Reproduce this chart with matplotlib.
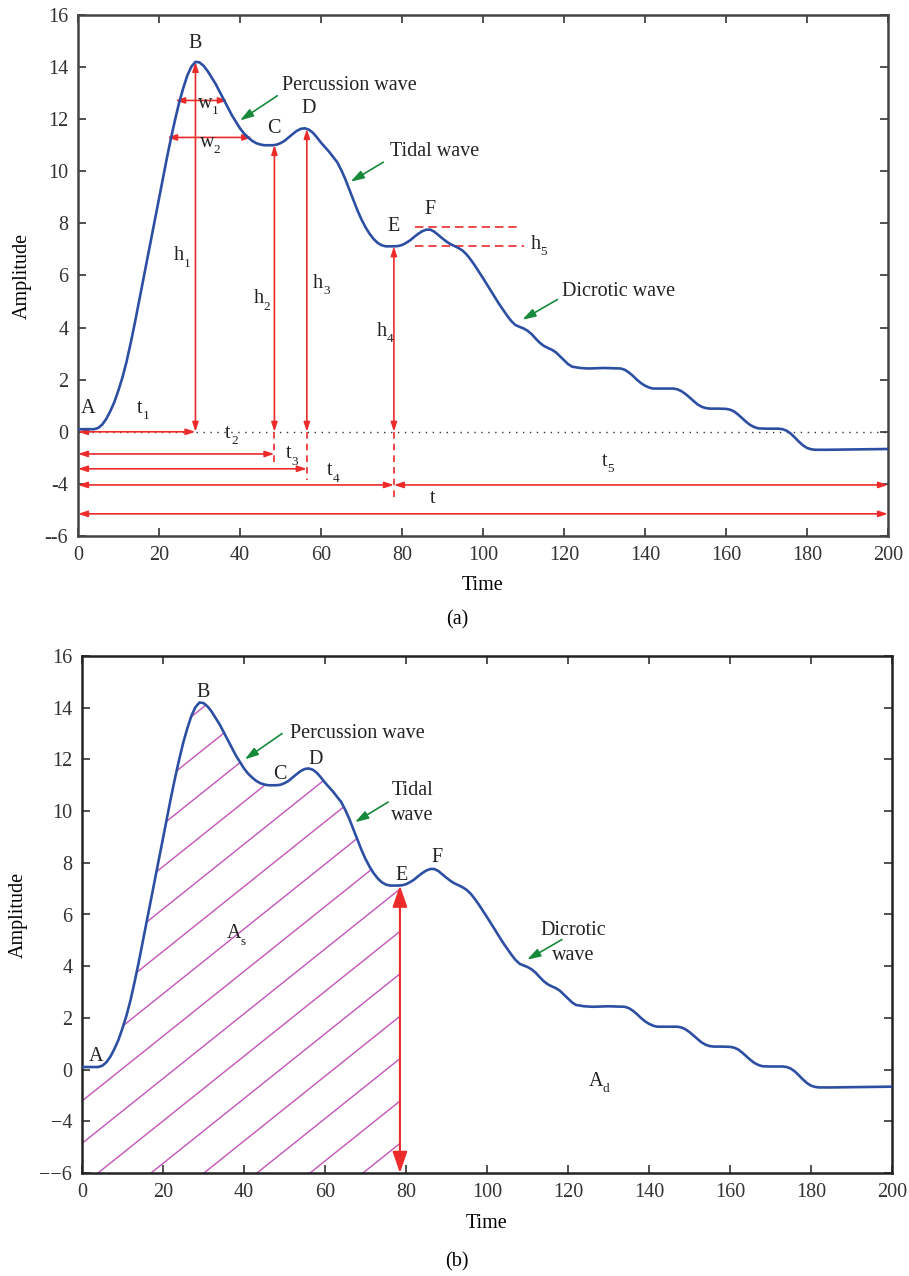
import numpy as np
import matplotlib
matplotlib.use("Agg")
import matplotlib.pyplot as plt
from matplotlib.path import Path

plt.rcParams['font.family'] = ['Liberation Serif', 'DejaVu Serif']

# ---------------- data ----------------
time = [0, 2, 4, 5, 6, 7, 8, 9, 10, 11, 12, 13, 14, 15, 16, 17, 18, 19, 20, 21, 22,
        23, 24, 25, 26, 27, 28, 29, 30, 31, 32, 33, 34, 35, 36, 37, 38, 39, 40, 41,
        42, 43, 44, 45, 46, 48, 49, 50, 51, 52, 53, 54, 55, 56, 57, 58, 59, 60, 62,
        64, 65, 66, 67, 68, 69, 70, 71, 72, 73, 74, 75, 76, 78, 79, 80, 81, 82, 83,
        84, 85, 86, 87, 88, 89, 90, 91, 92, 93, 94, 95, 96, 97, 98, 100, 102, 104,
        106, 107, 108, 109, 110, 111, 112, 113, 114, 115, 116, 117, 118, 119, 120,
        121, 122, 124, 126, 130, 134, 135, 136, 137, 138, 139, 140, 141, 142, 145,
        147, 148, 149, 150, 151, 152, 153, 154, 155, 156, 158, 160, 161, 162, 163,
        164, 165, 166, 167, 168, 170, 173, 174, 175, 176, 177, 178, 179, 180, 181,
        182, 185, 190, 200]
amplitude = [0.1, 0.1, 0.1, 0.15, 0.28, 0.5, 0.8, 1.15, 1.6, 2.1, 2.7, 3.4, 4.15,
             4.95, 5.75, 6.55, 7.35, 8.15, 8.95, 9.75, 10.55, 11.3, 12.0, 12.65,
             13.2, 13.68, 14.02, 14.2, 14.18, 14.05, 13.85, 13.6, 13.35, 13.05,
             12.75, 12.45, 12.15, 11.9, 11.65, 11.45, 11.3, 11.17, 11.08, 11.03,
             11.0, 11.0, 11.02, 11.08, 11.17, 11.3, 11.43, 11.55, 11.63, 11.65,
             11.6, 11.48, 11.3, 11.1, 10.75, 10.35, 10.05, 9.7, 9.3, 8.9, 8.5,
             8.15, 7.85, 7.6, 7.4, 7.25, 7.16, 7.12, 7.12, 7.13, 7.17, 7.25, 7.35,
             7.48, 7.6, 7.7, 7.76, 7.76, 7.68, 7.55, 7.42, 7.3, 7.2, 7.13, 7.05,
             6.95, 6.8, 6.6, 6.38, 5.9, 5.4, 4.9, 4.45, 4.25, 4.1, 4.03, 3.97, 3.88,
             3.75, 3.58, 3.42, 3.3, 3.22, 3.15, 3.05, 2.9, 2.75, 2.6, 2.5, 2.45,
             2.43, 2.45, 2.43, 2.38, 2.28, 2.15, 2.0, 1.87, 1.77, 1.7, 1.66, 1.66,
             1.66, 1.63, 1.56, 1.45, 1.32, 1.18, 1.05, 0.96, 0.91, 0.89, 0.89, 0.88,
             0.85, 0.78, 0.66, 0.52, 0.38, 0.26, 0.18, 0.13, 0.12, 0.12, 0.1, 0.04,
             -0.07, -0.22, -0.38, -0.52, -0.62, -0.67, -0.69, -0.69, -0.68, -0.66]

feature_labels = ['A', 'B', 'C', 'D', 'E', 'F']
feature_times = [0, 29, 48.5, 56.5, 78, 87]

xticks = [0, 20, 40, 60, 80, 100, 120, 140, 160, 180, 200]
yticks = [-4, -2, 0, 2, 4, 6, 8, 10, 12, 14, 16]
ytick_labels_a = ['--6', '-4', '0', '2', '4', '6', '8', '10', '12', '14', '16']
ytick_labels_b = ['\u2212\u22126', '\u22124', '0', '2', '4', '6', '8', '10', '12', '14', '16']

t = np.array(time, dtype=float)
a = np.array(amplitude, dtype=float)
amp_at = dict(zip(feature_labels, np.interp(feature_times, t, a)))
time_at = dict(zip(feature_labels, feature_times))

# ---------------- style ----------------
BLUE = '#2d4fa3'
RED = '#ee2b2b'
GREEN = '#17893b'
MAGENTA = '#c454b8'
TXT = '#222222'
FS = 14.5
SUBFS = 9.5

fig = plt.figure(figsize=(9.09, 12.76), dpi=100)
ax1 = fig.add_axes([78/909, 1 - 536/1276, 810/909, 521/1276])
ax2 = fig.add_axes([82/909, 1 - 1173/1276, 810/909, 517/1276])


def style_axes(ax, labels, spine_color, xpad, ypad):
    ax.set_xlim(0, 200)
    ax.set_ylim(-4, 16)
    ax.set_xticks(xticks)
    ax.set_yticks(yticks)
    ax.set_yticklabels(labels)
    ax.tick_params(direction='in', top=True, right=True, length=6, width=1.2,
                   labelsize=FS, colors='#333333', pad=7)
    for s in ax.spines.values():
        s.set_linewidth(1.8)
        s.set_color(spine_color)
    ax.set_xlabel('Time', fontsize=FS, labelpad=xpad)
    ax.set_ylabel('Amplitude', fontsize=FS, labelpad=ypad)


def darrow(ax, p0, p1, color=RED, lw=1.2, style='<|-|>,head_length=0.55,head_width=0.18'):
    ax.annotate('', xy=p1, xytext=p0,
                arrowprops=dict(arrowstyle=style, color=color, lw=lw,
                                shrinkA=0, shrinkB=0))


def sym(ax, x, y, base, sub, dx=4.0):
    ax.text(x, y, base, fontsize=FS, ha='center', va='center', color=TXT)
    if sub:
        ax.annotate(sub, xy=(x, y), xytext=(dx, -5.5), textcoords='offset points',
                    fontsize=SUBFS, ha='left', va='center', color=TXT)


def green_arrow(ax, text, tip, tail, text_xy, ha='left', va='center'):
    ax.annotate('', xy=tip, xytext=tail,
                arrowprops=dict(arrowstyle='-|>,head_length=0.8,head_width=0.25',
                                color=GREEN, lw=1.2, shrinkA=0, shrinkB=0))
    ax.text(text_xy[0], text_xy[1], text, fontsize=FS, ha=ha, va=va,
            color=TXT, linespacing=1.45)


sub_dx = {'t': 2.3, 'h': 3.5, 'w': 4.5, 'A': 4.5}

# ================= (a) =================
style_axes(ax1, ytick_labels_a, '#444444', 8, 9)
ax1.plot([0, 200], [0, 0], ls=(0, (1, 4)), color='#333333', lw=1.0)
ax1.plot(t, a, color=BLUE, lw=1.9, zorder=5, solid_joinstyle='round')

lab_pos_a = {'A': (2.5, 0.9), 'B': (29, 14.9), 'C': (48.4, 11.65),
             'D': (57, 12.4), 'E': (78, 7.9), 'F': (87, 8.55)}
for k in feature_labels:
    ax1.text(*lab_pos_a[k], k, fontsize=FS, ha='center', va='center', color=TXT)

for k in ['B', 'C', 'D', 'E']:
    darrow(ax1, (time_at[k], 0), (time_at[k], amp_at[k]))

ext_depth = {'C': -1.25, 'D': -1.85, 'E': -2.55}
for k, d in ext_depth.items():
    ax1.plot([time_at[k], time_at[k]], [0, d], ls=(0, (4, 3)), color=RED, lw=1.2)

darrow(ax1, (0, 0), (time_at['B'], 0))
darrow(ax1, (0, -0.85), (time_at['C'], -0.85))
darrow(ax1, (0, -1.42), (time_at['D'], -1.42))
darrow(ax1, (0, -2.04), (time_at['E'], -2.04))
darrow(ax1, (time_at['E'], -2.04), (200, -2.04))
darrow(ax1, (0, -3.15), (200, -3.15))

darrow(ax1, (24, 12.72), (37, 12.72))
darrow(ax1, (22, 11.3), (43, 11.3))

ax1.plot([83.2, 108.4], [amp_at['F'] + 0.12, amp_at['F'] + 0.12],
         ls=(0, (5, 3)), color=RED, lw=1.2)
ax1.plot([83.2, 110], [amp_at['E'], amp_at['E']], ls=(0, (5, 3)), color=RED, lw=1.2)

sym_a = [('t', '1', 15.3, 0.9), ('t', '2', 37.0, -0.05), ('t', '3', 52.0, -0.85),
         ('t', '4', 62.0, -1.5), ('t', '5', 130.0, -1.15), ('t', '', 87.5, -2.55),
         ('w', '1', 31.5, 12.6), ('w', '2', 31.8, 11.1),
         ('h', '1', 25.0, 6.75), ('h', '2', 44.7, 5.1),
         ('h', '3', 59.3, 5.7), ('h', '4', 75.0, 3.85), ('h', '5', 113.0, 7.2)]
for b, s, x, y in sym_a:
    sym(ax1, x, y, b, s, dx=sub_dx[b])

green_arrow(ax1, 'Percussion wave', (40, 11.95), (49.2, 12.9), (50.3, 13.3))
green_arrow(ax1, 'Tidal wave', (67.3, 9.6), (75.4, 10.35), (77, 10.75))
green_arrow(ax1, 'Dicrotic wave', (109.7, 4.3), (118.4, 5.08), (119.6, 5.4))

fig.text(457/909, 1 - 620/1276, '(a)', fontsize=FS, ha='center', va='center')

# ================= (b) =================
style_axes(ax2, ytick_labels_b, '#222222', 9, 8)
ax2.plot(t, a, color=BLUE, lw=1.9, zorder=5, solid_joinstyle='round')

lab_pos_b = {'A': (3.5, 0.5), 'B': (29.8, 14.6), 'C': (48.9, 11.4),
             'D': (57.8, 12.0), 'E': (79, 7.5), 'F': (87.7, 8.2)}
for k in feature_labels:
    ax2.text(*lab_pos_b[k], k, fontsize=FS, ha='center', va='center', color=TXT)

x_end = time_at['E'] + 0.5
mask = t <= x_end
xs = np.concatenate([t[mask], [x_end, x_end, 0]])
ys = np.concatenate([a[mask], [np.interp(x_end, t, a), -4, -4]])
clip = Path(np.column_stack([xs, ys]))
slope_ax = 0.8 * 810 / 517
spacing = 53 / 810
offset = 16 / 810
for k in range(-25, 16):
    x0 = offset + k * spacing
    ln, = ax2.plot([x0, x0 + 1 / slope_ax], [0, 1], transform=ax2.transAxes,
                   color=MAGENTA, lw=1.0, zorder=2)
    ln.set_clip_path(clip, ax2.transData)

darrow(ax2, (x_end, -4), (x_end, amp_at['E']), lw=1.5,
       style='<|-|>,head_length=1.3,head_width=0.45')

sym(ax2, 37.5, 5.25, 'A', 's', dx=sub_dx['A'])
sym(ax2, 127.0, -0.45, 'A', 'd', dx=sub_dx['A'])

green_arrow(ax2, 'Percussion wave', (40.2, 12.0), (49.4, 13.0), (51.3, 13.0))
green_arrow(ax2, 'Tidal\nwave', (67.4, 9.57), (75.6, 10.35), (81.5, 10.3), ha='center')
green_arrow(ax2, 'Dicrotic\nwave', (109.9, 4.25), (118.5, 5.03), (121.3, 4.9), ha='center')

fig.text(457/909, 1 - 1262/1276, '(b)', fontsize=FS, ha='center', va='center')

fig.savefig('out.png', dpi=100)
